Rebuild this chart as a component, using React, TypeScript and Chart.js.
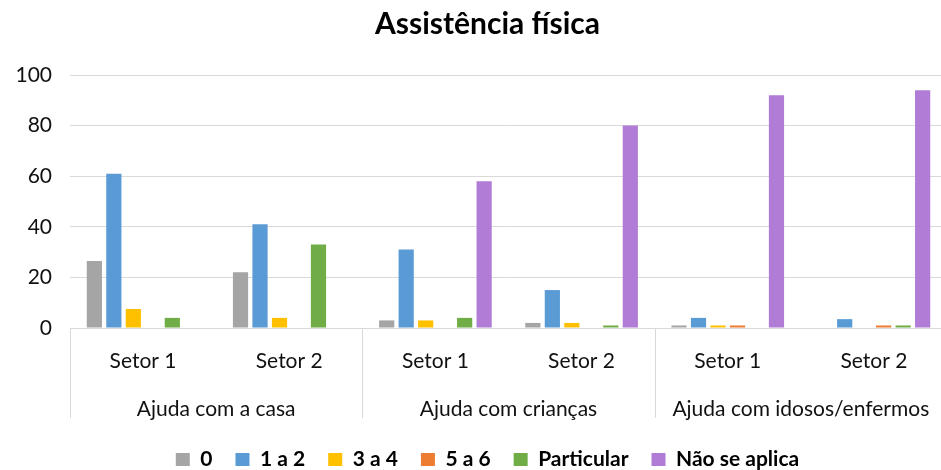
import React, { useEffect, useRef } from "react";
import { Chart, registerables } from "chart.js";

Chart.register(...registerables);

const categories = ["Setor 1", "Setor 2", "Setor 1", "Setor 2", "Setor 1", "Setor 2"];
const groups = ["Ajuda com a casa", "Ajuda com crianças", "Ajuda com idosos/enfermos"];
const seriesNames = ["0", "1 a 2", "3 a 4", "5 a 6", "Particular", "Não se aplica"];
const seriesColors = ["#A5A5A5", "#5B9BD5", "#FFC000", "#ED7D31", "#70AD47", "#B07CD6"];

const s0 = [26.5, 22, 3, 2, 1, null];
const s12 = [61, 41, 31, 15, 4, 3.5];
const s34 = [7.5, 4, 3, 2, 1, null];
const s56 = [null, null, null, null, 1, 1];
const sPart = [4, 33, 4, 1, null, 1];
const sNao = [null, null, 58, 80, 92, 94];

const yTicks = [0, 20, 40, 60, 80, 100];

const FONT = "Lato, 'Open Sans', sans-serif";
const GRID = "#D9D9D9";

const groupPlugin = {
  id: "groupPlugin",
  afterDraw(chart: any) {
    const { ctx, chartArea } = chart;
    const x = chart.scales.x;
    ctx.save();
    ctx.strokeStyle = GRID;
    ctx.lineWidth = 1;
    const lines = [chartArea.left];
    for (let g = 1; g < groups.length; g++) {
      lines.push((x.getPixelForTick(g * 2 - 1) + x.getPixelForTick(g * 2)) / 2);
    }
    lines.forEach((lx) => {
      const px = Math.round(lx) + 0.5;
      ctx.beginPath();
      ctx.moveTo(px, chartArea.bottom);
      ctx.lineTo(px, 418);
      ctx.stroke();
    });
    ctx.fillStyle = "#111";
    ctx.font = `21px ${FONT}`;
    ctx.textAlign = "center";
    ctx.textBaseline = "middle";
    groups.forEach((g, i) => {
      const cx = (x.getPixelForTick(i * 2) + x.getPixelForTick(i * 2 + 1)) / 2;
      ctx.fillText(g, cx, 409);
    });
    ctx.restore();
  },
};

export default function App() {
  const ref = useRef<HTMLCanvasElement | null>(null);
  useEffect(() => {
    if (!ref.current) return;
    const seriesData = [s0, s12, s34, s56, sPart, sNao];
    const chart = new Chart(ref.current, {
      type: "bar",
      data: {
        labels: categories,
        datasets: seriesNames.map((n, i) => ({
          label: n,
          data: seriesData[i],
          backgroundColor: seriesColors[i],
          borderWidth: 0,
          categoryPercentage: 0.8,
          barPercentage: 0.78,
        })),
      },
      options: {
        responsive: false,
        animation: false,
        layout: { padding: { top: 0, left: 0, right: 0, bottom: -10 } },
        plugins: {
          title: {
            display: true,
            text: "Assistência física",
            color: "#000",
            font: { family: FONT, size: 30, weight: "bold" },
            padding: { top: 6, bottom: 33 },
          },
          legend: {
            position: "bottom",
            labels: {
              color: "#000",
              font: { family: FONT, size: 21, weight: "bold" },
              boxWidth: 14,
              boxHeight: 13,
              padding: 23,
            },
          },
          tooltip: { enabled: false },
        },
        scales: {
          x: {
            grid: { display: false },
            border: { display: true, color: GRID },
            ticks: {
              color: "#111",
              font: { family: FONT, size: 21 },
              padding: 13,
            },
            afterFit: (s: any) => {
              s.height = 98;
            },
          },
          y: {
            min: 0,
            max: 100,
            afterBuildTicks: (s: any) => {
              s.ticks = yTicks.map((v) => ({ value: v }));
            },
            grid: { color: GRID, drawTicks: false },
            border: { display: false },
            ticks: {
              color: "#111",
              font: { family: FONT, size: 21 },
              padding: 18,
            },
            afterFit: (s: any) => {
              s.width = 70;
            },
          },
          y2: {
            position: "right",
            display: true,
            grid: { display: false },
            border: { display: false },
            ticks: { display: false },
            afterFit: (s: any) => {
              s.width = 28;
            },
          },
        },
      },
      plugins: [groupPlugin],
    });
    return () => chart.destroy();
  }, []);
  return (
    <div style={{ position: "fixed", left: 0, top: 0, width: 941, height: 470, overflow: "hidden", background: "#fff" }}>
      <canvas ref={ref} width={975} height={470} style={{ width: 975, height: 470, display: "block" }} />
    </div>
  );
}
